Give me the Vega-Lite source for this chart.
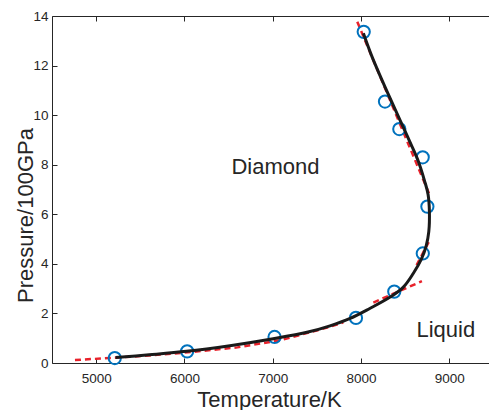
{
  "$schema": "https://vega.github.io/schema/vega-lite/v6.json",
  "autosize": {"type": "none"},
  "padding": {"left": 52, "top": 16, "right": 0, "bottom": 47},
  "width": 437,
  "height": 347,
  "background": "white",
  "config": {
    "view": {"stroke": null},
    "axis": {
      "grid": false,
      "domainColor": "#262626",
      "domainWidth": 1,
      "tickColor": "#262626",
      "tickWidth": 1,
      "tickSize": -5,
      "labelFont": "Liberation Sans",
      "labelFontSize": 13.5,
      "labelColor": "#262626",
      "titleFont": "Liberation Sans",
      "titleFontSize": 22,
      "titleFontWeight": "normal",
      "titleColor": "#262626"
    }
  },
  "datasets": {
    "red": [
      {"seg": "A", "ord": 1, "T": 4760, "P": 0.12},
      {"seg": "A", "ord": 2, "T": 5150, "P": 0.2},
      {"seg": "A", "ord": 3, "T": 5600, "P": 0.3},
      {"seg": "A", "ord": 4, "T": 6100, "P": 0.45},
      {"seg": "A", "ord": 5, "T": 6600, "P": 0.63},
      {"seg": "A", "ord": 6, "T": 7100, "P": 0.93},
      {"seg": "A", "ord": 7, "T": 7650, "P": 1.46},
      {"seg": "A", "ord": 8, "T": 7800, "P": 1.64},
      {"seg": "B", "ord": 1, "T": 8140, "P": 2.44},
      {"seg": "B", "ord": 2, "T": 8690, "P": 3.3},
      {"seg": "C", "ord": 1, "T": 8630, "P": 3.95},
      {"seg": "C", "ord": 2, "T": 8780, "P": 4.97},
      {"seg": "D", "ord": 1, "T": 7958, "P": 13.77},
      {"seg": "D", "ord": 2, "T": 8775, "P": 6.8}
    ],
    "circles": [
      {"T": 5211, "P": 0.2},
      {"T": 6031, "P": 0.47},
      {"T": 7021, "P": 1.05},
      {"T": 7943, "P": 1.82},
      {"T": 8377, "P": 2.88},
      {"T": 8700, "P": 4.42},
      {"T": 8752, "P": 6.31},
      {"T": 8699, "P": 8.3},
      {"T": 8434, "P": 9.44},
      {"T": 8272, "P": 10.55},
      {"T": 8031, "P": 13.36}
    ],
    "black": [
      {"ord": 1, "T": 5220, "P": 0.22},
      {"ord": 2, "T": 5600, "P": 0.33},
      {"ord": 3, "T": 6024, "P": 0.47},
      {"ord": 4, "T": 6515, "P": 0.7},
      {"ord": 5, "T": 7006, "P": 0.98},
      {"ord": 6, "T": 7400, "P": 1.25},
      {"ord": 7, "T": 7649, "P": 1.5},
      {"ord": 8, "T": 7877, "P": 1.8},
      {"ord": 9, "T": 8099, "P": 2.2},
      {"ord": 10, "T": 8326, "P": 2.65},
      {"ord": 11, "T": 8477, "P": 3.05},
      {"ord": 12, "T": 8590, "P": 3.6},
      {"ord": 13, "T": 8685, "P": 4.2},
      {"ord": 14, "T": 8740, "P": 4.75},
      {"ord": 15, "T": 8768, "P": 5.3},
      {"ord": 16, "T": 8775, "P": 6.1},
      {"ord": 17, "T": 8760, "P": 6.8},
      {"ord": 18, "T": 8720, "P": 7.35},
      {"ord": 19, "T": 8643, "P": 8.2},
      {"ord": 20, "T": 8550, "P": 8.95},
      {"ord": 21, "T": 8442, "P": 9.8},
      {"ord": 22, "T": 8253, "P": 11.29},
      {"ord": 23, "T": 8120, "P": 12.4},
      {"ord": 24, "T": 8027, "P": 13.3}
    ],
    "labels": [
      {"T": 7031, "P": 7.62, "label": "Diamond"},
      {"T": 8961, "P": 1.05, "label": "Liquid"}
    ]
  },
  "encoding": {
    "y": {
      "field": "P", "type": "quantitative",
      "scale": {"domain": [0, 14], "nice": false, "zero": false},
      "axis": {
        "orient": "left",
        "values": [0, 2, 4, 6, 8, 10, 12, 14],
        "labelPadding": 9,
        "title": "Pressure/100GPa",
        "titleX": -20,
        "titleY": 199,
        "titleAngle": -90,
        "titleAlign": "center",
        "titleBaseline": "alphabetic"
      }
    }
  },
  "resolve": {"axis": {"x": "independent"}},
  "layer": [
    {
      "data": {"name": "red"},
      "mark": {"type": "line", "color": "#e8222b", "strokeWidth": 2.5, "strokeDash": [6, 4]},
      "encoding": {
        "x": {
          "field": "T", "type": "quantitative",
          "scale": {"domain": [4500, 9450], "nice": false, "zero": false},
          "axis": {
            "orient": "bottom",
            "values": [5000, 6000, 7000, 8000, 9000],
            "format": "d",
            "labelPadding": 13,
            "title": "Temperature/K",
            "titleX": 217,
            "titleY": 43,
            "titleBaseline": "alphabetic",
            "titleAnchor": null
          }
        },
        "detail": {"field": "seg", "type": "nominal"},
        "order": {"field": "ord", "type": "quantitative"}
      }
    },
    {
      "data": {"name": "circles"},
      "mark": {"type": "point", "shape": "circle", "filled": false, "size": 150, "strokeWidth": 2, "color": "#0072BD", "opacity": 1},
      "encoding": {
        "x": {
          "field": "T", "type": "quantitative",
          "axis": {"orient": "top", "values": [5000, 6000, 7000, 8000, 9000], "labels": false, "title": null}
        }
      }
    },
    {
      "data": {"name": "black"},
      "mark": {"type": "line", "color": "#1a1a1a", "strokeWidth": 3, "interpolate": "catmull-rom"},
      "encoding": {
        "x": {"field": "T", "type": "quantitative", "axis": null},
        "order": {"field": "ord", "type": "quantitative"}
      }
    },
    {
      "data": {"name": "labels"},
      "mark": {"type": "text", "font": "Liberation Sans", "fontSize": 22, "color": "#262626", "align": "center", "baseline": "alphabetic"},
      "encoding": {
        "x": {"field": "T", "type": "quantitative", "axis": null},
        "text": {"field": "label"}
      }
    }
  ]
}
